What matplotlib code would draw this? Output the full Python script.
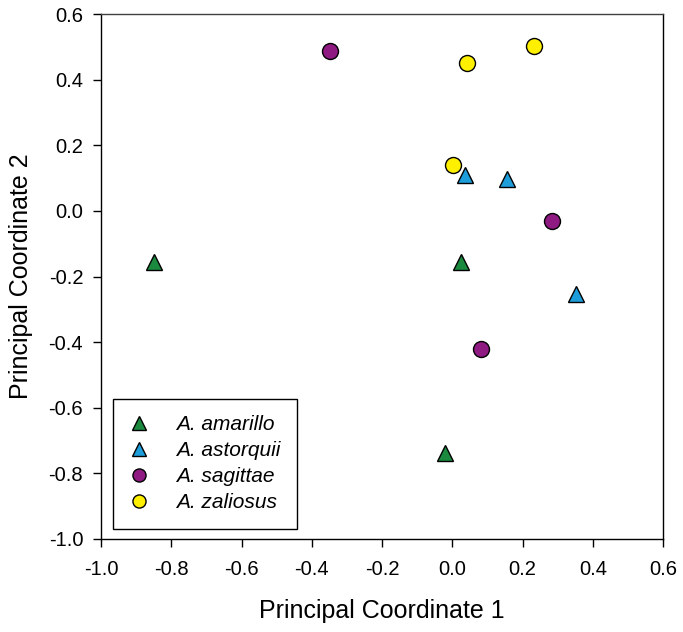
import matplotlib
matplotlib.use("Agg")
import matplotlib.pyplot as plt

plt.rcParams['font.family'] = ['Liberation Sans', 'DejaVu Sans']

species = ["A. amarillo", "A. astorquii", "A. sagittae", "A. zaliosus"]
amarillo_x = [-0.848, 0.025, -0.02]
amarillo_y = [-0.155, -0.155, -0.737]
astorquii_x = [0.037, 0.156, 0.351]
astorquii_y = [0.108, 0.098, -0.252]
sagittae_x = [-0.348, 0.283, 0.083]
sagittae_y = [0.487, -0.031, -0.422]
zaliosus_x = [0.042, 0.234, 0.001]
zaliosus_y = [0.452, 0.502, 0.139]

xticks = [-1.0, -0.8, -0.6, -0.4, -0.2, 0.0, 0.2, 0.4, 0.6]
yticks = [-1.0, -0.8, -0.6, -0.4, -0.2, 0.0, 0.2, 0.4, 0.6]

fig = plt.figure(figsize=(6.83, 6.32), dpi=100)
ax = fig.add_axes([101/683, 1-539/632, (663-101)/683, (539-14)/632])

series = [
    (amarillo_x, amarillo_y, '^', '#1b8a3f'),
    (astorquii_x, astorquii_y, '^', '#1e9ddb'),
    (sagittae_x, sagittae_y, 'o', '#8e1a82'),
    (zaliosus_x, zaliosus_y, 'o', '#fff000'),
]
for (xs, ys, m, c), lab in zip(series, species):
    ms = 12 if m == '^' else 11.5
    ax.plot(xs, ys, linestyle='none', marker=m, markersize=ms,
            markerfacecolor=c, markeredgecolor='black', markeredgewidth=1.0,
            label=lab, zorder=3)

ax.set_xlim(-1.0, 0.6)
ax.set_ylim(-1.0, 0.6)
ax.set_xticks(xticks)
ax.set_yticks(yticks)
ax.set_xticklabels([f"{v:.1f}" for v in xticks], fontsize=14.5)
ax.set_yticklabels([f"{v:.1f}" for v in yticks], fontsize=14.5)
ax.tick_params(direction='out', length=5.8, width=1, color='black')
ax.tick_params(axis='x', pad=9)
ax.tick_params(axis='y', pad=7)
for s in ax.spines.values():
    s.set_linewidth(1.0)
    s.set_color('black')
ax.spines['top'].set_color('#404040')

ax.set_xlabel("Principal Coordinate 1", fontsize=18, labelpad=14.5)
ax.set_ylabel("Principal Coordinate 2", fontsize=18, labelpad=11)

leg = ax.legend(loc='lower left', bbox_to_anchor=(0.022, 0.02), frameon=True,
                fancybox=False, edgecolor='black', framealpha=1,
                prop={'style': 'italic', 'size': 15},
                markerscale=0.82, handletextpad=1.3, labelspacing=0.33,
                borderpad=0.8, handlelength=0.9, borderaxespad=0)
leg.get_frame().set_linewidth(1.0)

fig.savefig("out.png", dpi=100)
